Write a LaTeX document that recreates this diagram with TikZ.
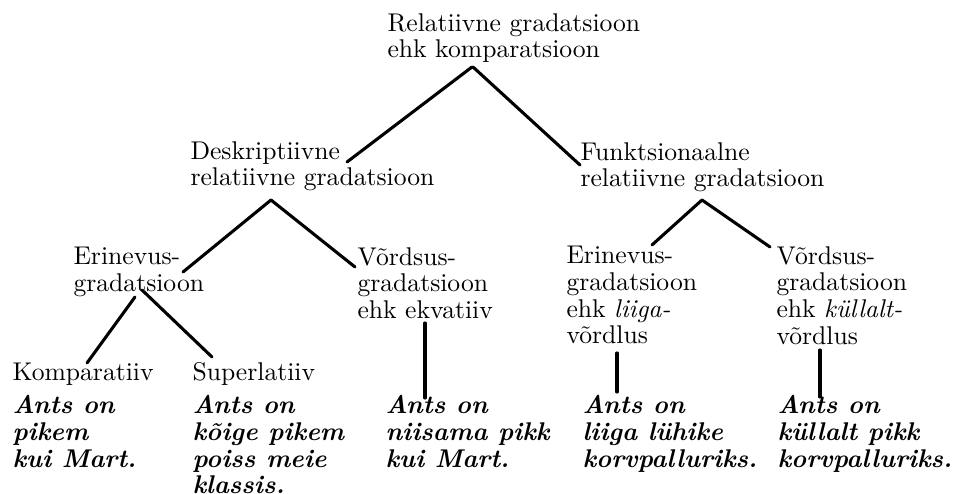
\documentclass[tikz,border=0pt]{standalone}
\usepackage{tikz}
\usetikzlibrary{positioning,calc}

\tikzset{
    term/.style={anchor=north west,inner sep=0pt,align=left,font=\fontsize{10}{10.4}\selectfont},
    sample/.style={term,font=\fontsize{10}{10.4}\selectfont\bfseries\itshape},
    branch/.style={line width=1.2pt,line cap=round}
}

\begin{document}
\begin{tikzpicture}[x=0.39pt,y=-0.39pt]
        % fix the frame
        \useasboundingbox (0,0) rectangle (963,494);

        % upper levels
        \node[term] (rel) at (387,13) {Relatiivne gradatsioon\\ehk komparatsioon};
        \node[term] (desk) at (190,141) {Deskriptiivne\\relatiivne gradatsioon};
        \node[term] (funk) at (580,142) {Funktsionaalne\\relatiivne gradatsioon};

        % middle level
        \node[term] (erin) at (73,247) {Erinevus-\\gradatsioon};
        \node[term] (vord) at (357,247) {Võrdsus-\\gradatsioon\\ehk ekvatiiv};
        \node[term] (liiga) at (566,246) {Erinevus-\\gradatsioon\\ehk \textit{liiga-}\\võrdlus};
        \node[term] (kull) at (776,246) {Võrdsus-\\gradatsioon\\ehk \textit{küllalt-}\\võrdlus};

        % lowest level
        \node[term] (komp) at (12,362) {Komparatiiv};
        \node[term] (sup) at (192,362) {Superlatiiv};

        % examples
        \node[sample] (exkomp) at (12,395) {Ants on\\pikem\\kui Mart.};
        \node[sample] (exsup) at (192,395) {Ants on\\kõige pikem\\poiss meie\\klassis.};
        \node[sample] (exvord) at (385,395) {Ants on\\niisama pikk\\kui Mart.};
        \node[sample] (exliiga) at (582,395) {Ants on\\liiga lühike\\korvpalluriks.};
        \node[sample] (exkull) at (777,395) {Ants on\\küllalt pikk\\korvpalluriks.};

        % branches
        \draw[branch] ($(rel.north west)+(85,54)$) -- ($(desk.north west)+(157,21)$);
        \draw[branch] ($(rel.north west)+(86,54)$) -- ($(funk.north west)+(0,23)$);
        \draw[branch] ($(desk.north west)+(81,59)$) -- ($(erin.north west)+(110,25)$);
        \draw[branch] ($(desk.north west)+(81,59)$) -- ($(vord.north west)+(-2,20)$);
        \draw[branch] ($(funk.north west)+(122,58)$) -- ($(liiga.north west)+(86,-1)$);
        \draw[branch] ($(funk.north west)+(122,58)$) -- ($(kull.north west)+(-6,1)$);
        \draw[branch] ($(erin.north west)+(62,50)$) -- ($(komp.north west)+(75,1)$);
        \draw[branch] ($(erin.north west)+(69,43)$) -- ($(sup.north west)+(20,-5)$);
        \draw[branch] ($(vord.north west)+(68,76)$) -- ($(exvord.north west)+(40,3)$);
        \draw[branch] ($(liiga.north west)+(51,107)$) -- ($(exliiga.north west)+(35,-3)$);
        \draw[branch] ($(kull.north west)+(44,104)$) -- ($(exkull.north west)+(43,2)$);
\end{tikzpicture}
\end{document}
